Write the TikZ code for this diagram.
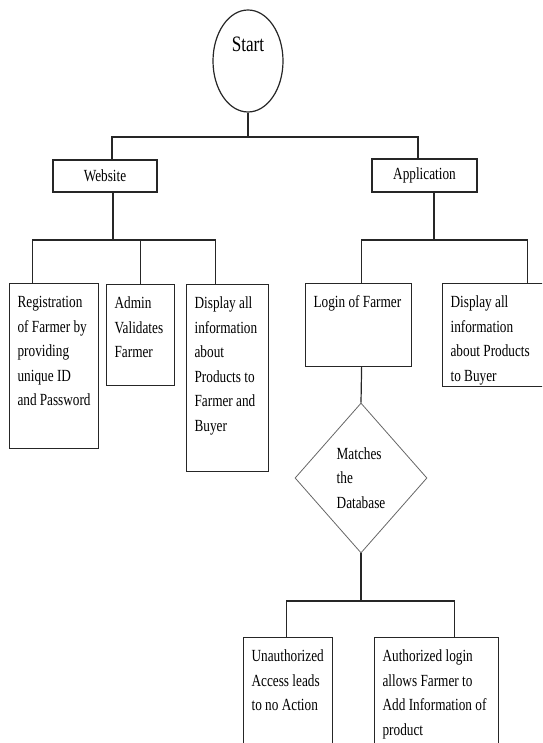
\documentclass[tikz,border=0pt]{standalone}
\usepackage{fontspec}
\setmainfont{Liberation Serif}[FakeStretch=0.78]
\usetikzlibrary{shapes.geometric}
\newcommand{\boxtxt}[3]{\parbox[t][\dimexpr#2pt-14pt\relax][t]{\dimexpr#1pt-16pt\relax}{\raggedright\strut#3}}
\begin{document}
\begin{tikzpicture}[x=1pt,y=-1pt,line width=1.2pt,
		blk/.style={draw=black!85,inner xsep=8pt,inner ysep=7pt,anchor=north west,font=\fontsize{17pt}{24.5pt}\selectfont},
		head/.style={draw=black!85,inner sep=0pt,font=\fontsize{17pt}{24.5pt}\selectfont},
		dec/.style={draw=black!60,line width=0.8pt,diamond,inner sep=0pt,align=left,font=\fontsize{17pt}{24.5pt}\selectfont}]
		\useasboundingbox (0,0) rectangle (542,743);
		\clip (0,0) rectangle (542,743);
		\node[draw=black!85,ellipse,inner sep=0pt,minimum width=70pt,minimum height=102pt,text height=14pt,text depth=32pt,font=\fontsize{22pt}{26pt}\selectfont] (start) at (248,61) {Start};
		\node[head,minimum width=104pt,minimum height=32pt] (web) at (105,176) {Website};
		\node[head,minimum width=105pt,minimum height=33pt] (app) at (424.5,175.5) {Application};
		\node[blk] (reg) at (9,283) {\boxtxt{89}{165}{Registration\\of Farmer by\\providing\\unique ID\\and Password}};
		\node[blk] (admin) at (106,284) {\boxtxt{68}{101}{Admin\\Validates\\Farmer}};
		\node[blk] (disp) at (186,284) {\boxtxt{82}{187}{Display all\\information\\about\\Products to\\Farmer and\\Buyer}};
		\node[blk] (login) at (305,283) {\boxtxt{106}{83}{Login of Farmer}};
		\node[blk] (buyer) at (442,283) {\boxtxt{103}{103}{Display all\\information\\about Products\\to Buyer}};
		\node[dec,minimum width=132pt,minimum height=150pt] (db) at (361,478) {Matches\\the\\Database};
		\node[blk] (unauth) at (243,637) {\boxtxt{89}{140}{Unauthorized\\Access leads\\to no Action}};
		\node[blk] (auth) at (374,637) {\boxtxt{124}{140}{Authorized login\\allows Farmer to\\Add Information of\\product}};
		\coordinate (b1) at (248,137);
		\coordinate (b2) at (113,240);
		\coordinate (b3) at (434,240);
		\coordinate (b4) at (361,601);
		\draw[black!85] (start.south) -- (b1);
		\draw[black!85] ([xshift=7pt]web.north) |- (b1) -| ([xshift=-6.5pt]app.north);
		\draw[black!85] ([xshift=8pt]web.south) -- (b2);
		\draw[black!85] ([xshift=-21.5pt]reg.north) |- (b2) -| ([xshift=-12pt]disp.north);
		\draw[black!85] (admin.north) -- (admin.north |- b2);
		\draw[black!85] ([xshift=9.5pt]app.south) -- (b3);
		\draw[black!85] ([xshift=3pt]login.north) |- (b3) -| ([xshift=33.5pt]buyer.north);
		\draw[black!85] ([xshift=3pt]login.south) -- (db.north);
		\draw[black!85] (db.south) -- (b4);
		\draw[black!85] ([xshift=-1.5pt]unauth.north) |- (b4) -| ([xshift=18pt]auth.north);
	\end{tikzpicture}
\end{document}
